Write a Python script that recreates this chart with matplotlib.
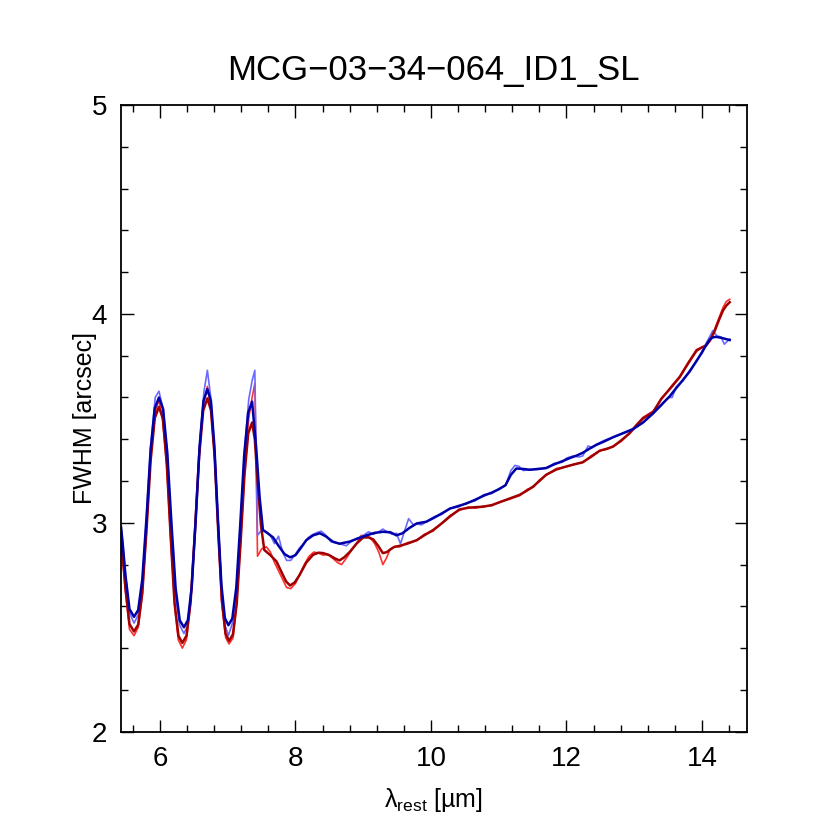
import matplotlib
matplotlib.use("Agg")
import matplotlib.pyplot as plt
from matplotlib.ticker import MultipleLocator

plt.rcParams['font.family'] = ['Liberation Sans', 'DejaVu Sans']
plt.rcParams['mathtext.fontset'] = 'custom'
plt.rcParams['mathtext.rm'] = 'Liberation Sans'
plt.rcParams['mathtext.it'] = 'Liberation Sans:italic'

# smoothed blue
db_x = [5.425, 5.45, 5.49, 5.55, 5.617, 5.678, 5.739, 5.801, 5.862, 5.923, 5.985,
        6.046, 6.108, 6.17, 6.231, 6.292, 6.354, 6.412, 6.469, 6.527, 6.585, 6.642, 6.70,
        6.752, 6.803, 6.855, 6.907, 6.958, 7.01, 7.068, 7.127, 7.185, 7.243, 7.302, 7.36,
        7.42, 7.47, 7.52, 7.57, 7.67, 7.75, 7.84, 7.92, 8.0, 8.08, 8.16, 8.26, 8.36, 8.45,
        8.55, 8.65, 8.80, 8.92, 9.05, 9.17, 9.29, 9.40, 9.49, 9.58, 9.68, 9.79, 9.93, 10.05,
        10.16, 10.28, 10.40, 10.52, 10.65, 10.78, 10.90, 11.01, 11.10, 11.18, 11.26, 11.36,
        11.46, 11.58, 11.70, 11.82, 11.94, 12.05, 12.15, 12.24, 12.34, 12.44, 12.56, 12.69,
        12.83, 12.98, 13.13, 13.28, 13.40, 13.52, 13.62, 13.72, 13.82, 13.92, 14.00, 14.06,
        14.11, 14.16, 14.21, 14.28, 14.35, 14.41]
db_y = [2.98, 2.90, 2.75, 2.587, 2.55, 2.582, 2.729, 3.023, 3.348, 3.548, 3.60,
        3.545, 3.336, 2.995, 2.687, 2.533, 2.50, 2.534, 2.694, 3.013, 3.366, 3.583, 3.64,
        3.584, 3.369, 3.019, 2.702, 2.544, 2.51, 2.542, 2.692, 2.992, 3.323, 3.527, 3.58,
        3.36, 3.125, 2.965, 2.955, 2.93, 2.89, 2.85, 2.835, 2.845, 2.88, 2.917, 2.94, 2.95, 2.935,
        2.91, 2.90, 2.91, 2.925, 2.94, 2.952, 2.957, 2.955, 2.94, 2.95, 2.975, 2.997, 3.005, 3.025,
        3.045, 3.068, 3.08, 3.092, 3.11, 3.13, 3.145, 3.162, 3.18, 3.23, 3.26, 3.258,
        3.254, 3.258, 3.262, 3.28, 3.295, 3.31, 3.322, 3.335, 3.355, 3.373, 3.39, 3.41,
        3.428, 3.448, 3.48, 3.524, 3.565, 3.604, 3.645, 3.684, 3.725, 3.775, 3.815, 3.85,
        3.875, 3.888, 3.89, 3.886, 3.88, 3.875]

# raw blue
lb_x = [5.425, 5.49, 5.55, 5.617, 5.68, 5.74, 5.80, 5.86, 5.93, 5.985, 6.05, 6.11, 6.17,
        6.23, 6.29, 6.354, 6.41, 6.47, 6.53, 6.59, 6.65, 6.70, 6.75, 6.80, 6.86, 6.91, 6.96,
        7.01, 7.07, 7.13, 7.19, 7.25, 7.31, 7.36, 7.40, 7.44, 7.51, 7.57, 7.63, 7.69, 7.75,
        7.81, 7.87, 7.93, 8.00, 8.06, 8.12, 8.19, 8.26, 8.33, 8.38, 8.45, 8.52, 8.58, 8.65,
        8.75, 8.82, 8.90, 8.98, 9.08, 9.15, 9.22, 9.29, 9.36, 9.43, 9.49, 9.55, 9.67, 9.74,
        9.79, 9.86, 9.93, 10.05, 10.16, 10.28, 10.40, 10.52, 10.65, 10.78, 10.90, 11.01, 11.10,
        11.18, 11.24, 11.30, 11.36, 11.46, 11.58, 11.70, 11.82, 11.94, 12.00, 12.10, 12.18,
        12.24, 12.32, 12.38, 12.44, 12.56, 12.69, 12.83, 12.98, 13.13, 13.28, 13.40, 13.50,
        13.56, 13.62, 13.72, 13.82, 13.92, 14.00, 14.08, 14.16, 14.22, 14.28, 14.33, 14.41]
lb_y = [2.99, 2.76, 2.57, 2.52, 2.56, 2.72, 3.02, 3.36, 3.60, 3.63, 3.54, 3.32, 2.97,
        2.66, 2.51, 2.47, 2.51, 2.69, 3.02, 3.40, 3.63, 3.73, 3.60, 3.38, 3.00, 2.68, 2.51,
        2.46, 2.52, 2.69, 3.00, 3.35, 3.59, 3.68, 3.73, 2.94, 2.97, 2.955, 2.94, 2.90, 2.936,
        2.86, 2.82, 2.82, 2.85, 2.88, 2.90, 2.93, 2.945, 2.955, 2.96, 2.94, 2.91, 2.905, 2.90,
        2.89, 2.91, 2.925, 2.935, 2.957, 2.945, 2.955, 2.97, 2.955, 2.945, 2.95, 2.90, 3.02, 2.99,
        2.995, 2.99, 3.005, 3.03, 3.04, 3.07, 3.075, 3.095, 3.105, 3.135, 3.14, 3.165, 3.18,
        3.25, 3.275, 3.27, 3.25, 3.255, 3.255, 3.262, 3.285, 3.29, 3.31, 3.32, 3.315,
        3.32, 3.368, 3.36, 3.375, 3.395, 3.41, 3.43, 3.45, 3.48, 3.525, 3.56, 3.60,
        3.60, 3.65, 3.68, 3.73, 3.775, 3.82, 3.87, 3.92, 3.895, 3.89, 3.855, 3.88]

# smoothed red
dr_x = [5.425, 5.45, 5.49, 5.55, 5.617, 5.678, 5.739, 5.801, 5.862, 5.923, 5.985,
        6.043, 6.10, 6.158, 6.215, 6.273, 6.33, 6.392, 6.453, 6.515, 6.577, 6.638, 6.70,
        6.753, 6.807, 6.86, 6.913, 6.967, 7.02, 7.077, 7.133, 7.19, 7.247, 7.303, 7.36,
        7.40, 7.44, 7.49, 7.54, 7.63, 7.72, 7.80, 7.86, 7.92, 7.99, 8.06, 8.16, 8.26, 8.34,
        8.41, 8.50, 8.58, 8.65, 8.72, 8.80, 8.90, 9.00, 9.08, 9.15, 9.22, 9.29, 9.35, 9.39,
        9.46, 9.54, 9.65, 9.79, 9.90, 10.03, 10.15, 10.28, 10.42, 10.55, 10.66, 10.77, 10.90,
        11.01, 11.15, 11.31, 11.42, 11.51, 11.60, 11.70, 11.85, 12.00, 12.12, 12.24, 12.36,
        12.49, 12.60, 12.69, 12.81, 12.93, 13.03, 13.13, 13.28, 13.40, 13.47, 13.55, 13.67,
        13.80, 13.92, 14.00, 14.06, 14.12, 14.19, 14.25, 14.31, 14.36, 14.41]
dr_y = [2.93, 2.84, 2.69, 2.515, 2.48, 2.512, 2.663, 2.964, 3.297, 3.501, 3.555,
        3.499, 3.284, 2.934, 2.617, 2.459, 2.425, 2.46, 2.624, 2.952, 3.315, 3.537, 3.596,
        3.538, 3.317, 2.957, 2.632, 2.47, 2.435, 2.466, 2.613, 2.905, 3.229, 3.428, 3.48,
        3.40, 3.20, 2.99, 2.87, 2.845, 2.815, 2.76, 2.72, 2.70, 2.715, 2.75, 2.81, 2.847, 2.857,
        2.855, 2.845, 2.83, 2.82, 2.835, 2.86, 2.90, 2.93, 2.93, 2.92, 2.89, 2.855, 2.86, 2.87,
        2.885, 2.89, 2.90, 2.917, 2.94, 2.965, 2.995, 3.03, 3.064, 3.072, 3.075, 3.077, 3.085,
        3.098, 3.115, 3.134, 3.155, 3.174, 3.20, 3.23, 3.255, 3.27, 3.28, 3.29, 3.315,
        3.345, 3.355, 3.365, 3.395, 3.428, 3.465, 3.50, 3.53, 3.594, 3.62, 3.65, 3.697,
        3.765, 3.824, 3.84, 3.848, 3.875, 3.92, 3.97, 4.016, 4.04, 4.056]

# raw red
lr_x = [5.425, 5.49, 5.55, 5.617, 5.68, 5.74, 5.80, 5.86, 5.93, 5.985, 6.04, 6.10, 6.16,
        6.22, 6.27, 6.33, 6.39, 6.45, 6.51, 6.58, 6.64, 6.70, 6.75, 6.81, 6.86, 6.91, 6.97,
        7.02, 7.08, 7.13, 7.19, 7.25, 7.31, 7.36, 7.40, 7.44, 7.50, 7.57, 7.63, 7.69, 7.75,
        7.81, 7.87, 7.93, 8.00, 8.06, 8.13, 8.20, 8.27, 8.34, 8.41, 8.48, 8.55, 8.62, 8.68,
        8.75, 8.82, 8.90, 8.97, 9.04, 9.10, 9.17, 9.23, 9.29, 9.34, 9.40, 9.46, 9.54, 9.65,
        9.79, 9.90, 10.03, 10.15, 10.28, 10.42, 10.55, 10.66, 10.77, 10.90, 11.01, 11.15,
        11.31, 11.42, 11.51, 11.60, 11.70, 11.85, 12.00, 12.12, 12.24, 12.36, 12.49, 12.60,
        12.69, 12.81, 12.93, 13.03, 13.13, 13.28, 13.40, 13.55, 13.67, 13.80, 13.92, 14.00,
        14.06, 14.12, 14.19, 14.25, 14.31, 14.36, 14.41]
lr_y = [2.92, 2.67, 2.49, 2.46, 2.50, 2.66, 2.96, 3.30, 3.53, 3.59, 3.49, 3.27, 2.91,
        2.59, 2.44, 2.40, 2.44, 2.61, 2.94, 3.33, 3.57, 3.653, 3.55, 3.30, 2.95, 2.62, 2.45,
        2.42, 2.45, 2.61, 2.91, 3.25, 3.50, 3.60, 3.667, 2.84, 2.875, 2.885, 2.86, 2.81, 2.77,
        2.73, 2.69, 2.685, 2.71, 2.75, 2.80, 2.84, 2.86, 2.855, 2.845, 2.85, 2.83, 2.81, 2.80,
        2.83, 2.865, 2.90, 2.94, 2.935, 2.93, 2.90, 2.86, 2.80, 2.83, 2.875, 2.885, 2.885, 2.905,
        2.915, 2.945, 2.96, 2.995, 3.035, 3.06, 3.075, 3.07, 3.08, 3.082, 3.10, 3.112,
        3.13, 3.16, 3.17, 3.205, 3.228, 3.26, 3.268, 3.282, 3.288, 3.32, 3.345, 3.352,
        3.368, 3.39, 3.43, 3.47, 3.505, 3.535, 3.59, 3.655, 3.70, 3.77, 3.83, 3.84,
        3.85, 3.87, 3.93, 3.98, 4.03, 4.06, 4.07]

fig = plt.figure(figsize=(8.3, 8.3), dpi=100)
ax = fig.add_axes([0.1458, 0.1184, 0.7538, 0.7551])

ax.plot(lr_x, lr_y, color='#ff3030', lw=1.2)
ax.plot(lb_x, lb_y, color='#6a6aff', lw=1.2)
ax.plot(dr_x, dr_y, color='#a00000', lw=1.8)
ax.plot(db_x, db_y, color='#0000a8', lw=1.8)

ax.set_xlim(5.425, 14.66)
ax.set_ylim(2, 5)
ax.xaxis.set_major_locator(MultipleLocator(2))
ax.xaxis.set_minor_locator(MultipleLocator(0.4))
ax.yaxis.set_major_locator(MultipleLocator(1))
ax.yaxis.set_minor_locator(MultipleLocator(0.2))
ax.tick_params(which='both', direction='in', top=True, right=True,
               width=1.0, labelsize=20, pad=10)
ax.tick_params(which='major', length=9)
ax.tick_params(which='minor', length=5)
for s in ax.spines.values():
    s.set_linewidth(1.3)

ax.set_title('MCG\u221203\u221234\u2212064_ID1_SL', fontsize=25, pad=18)
ax.set_xlabel('\u03bb$_{\\rm rest}$ [\u00b5m]', fontsize=18, labelpad=10)
ax.set_ylabel('FWHM [arcsec]', fontsize=18, labelpad=-4)

fig.savefig('out.png', dpi=100)
